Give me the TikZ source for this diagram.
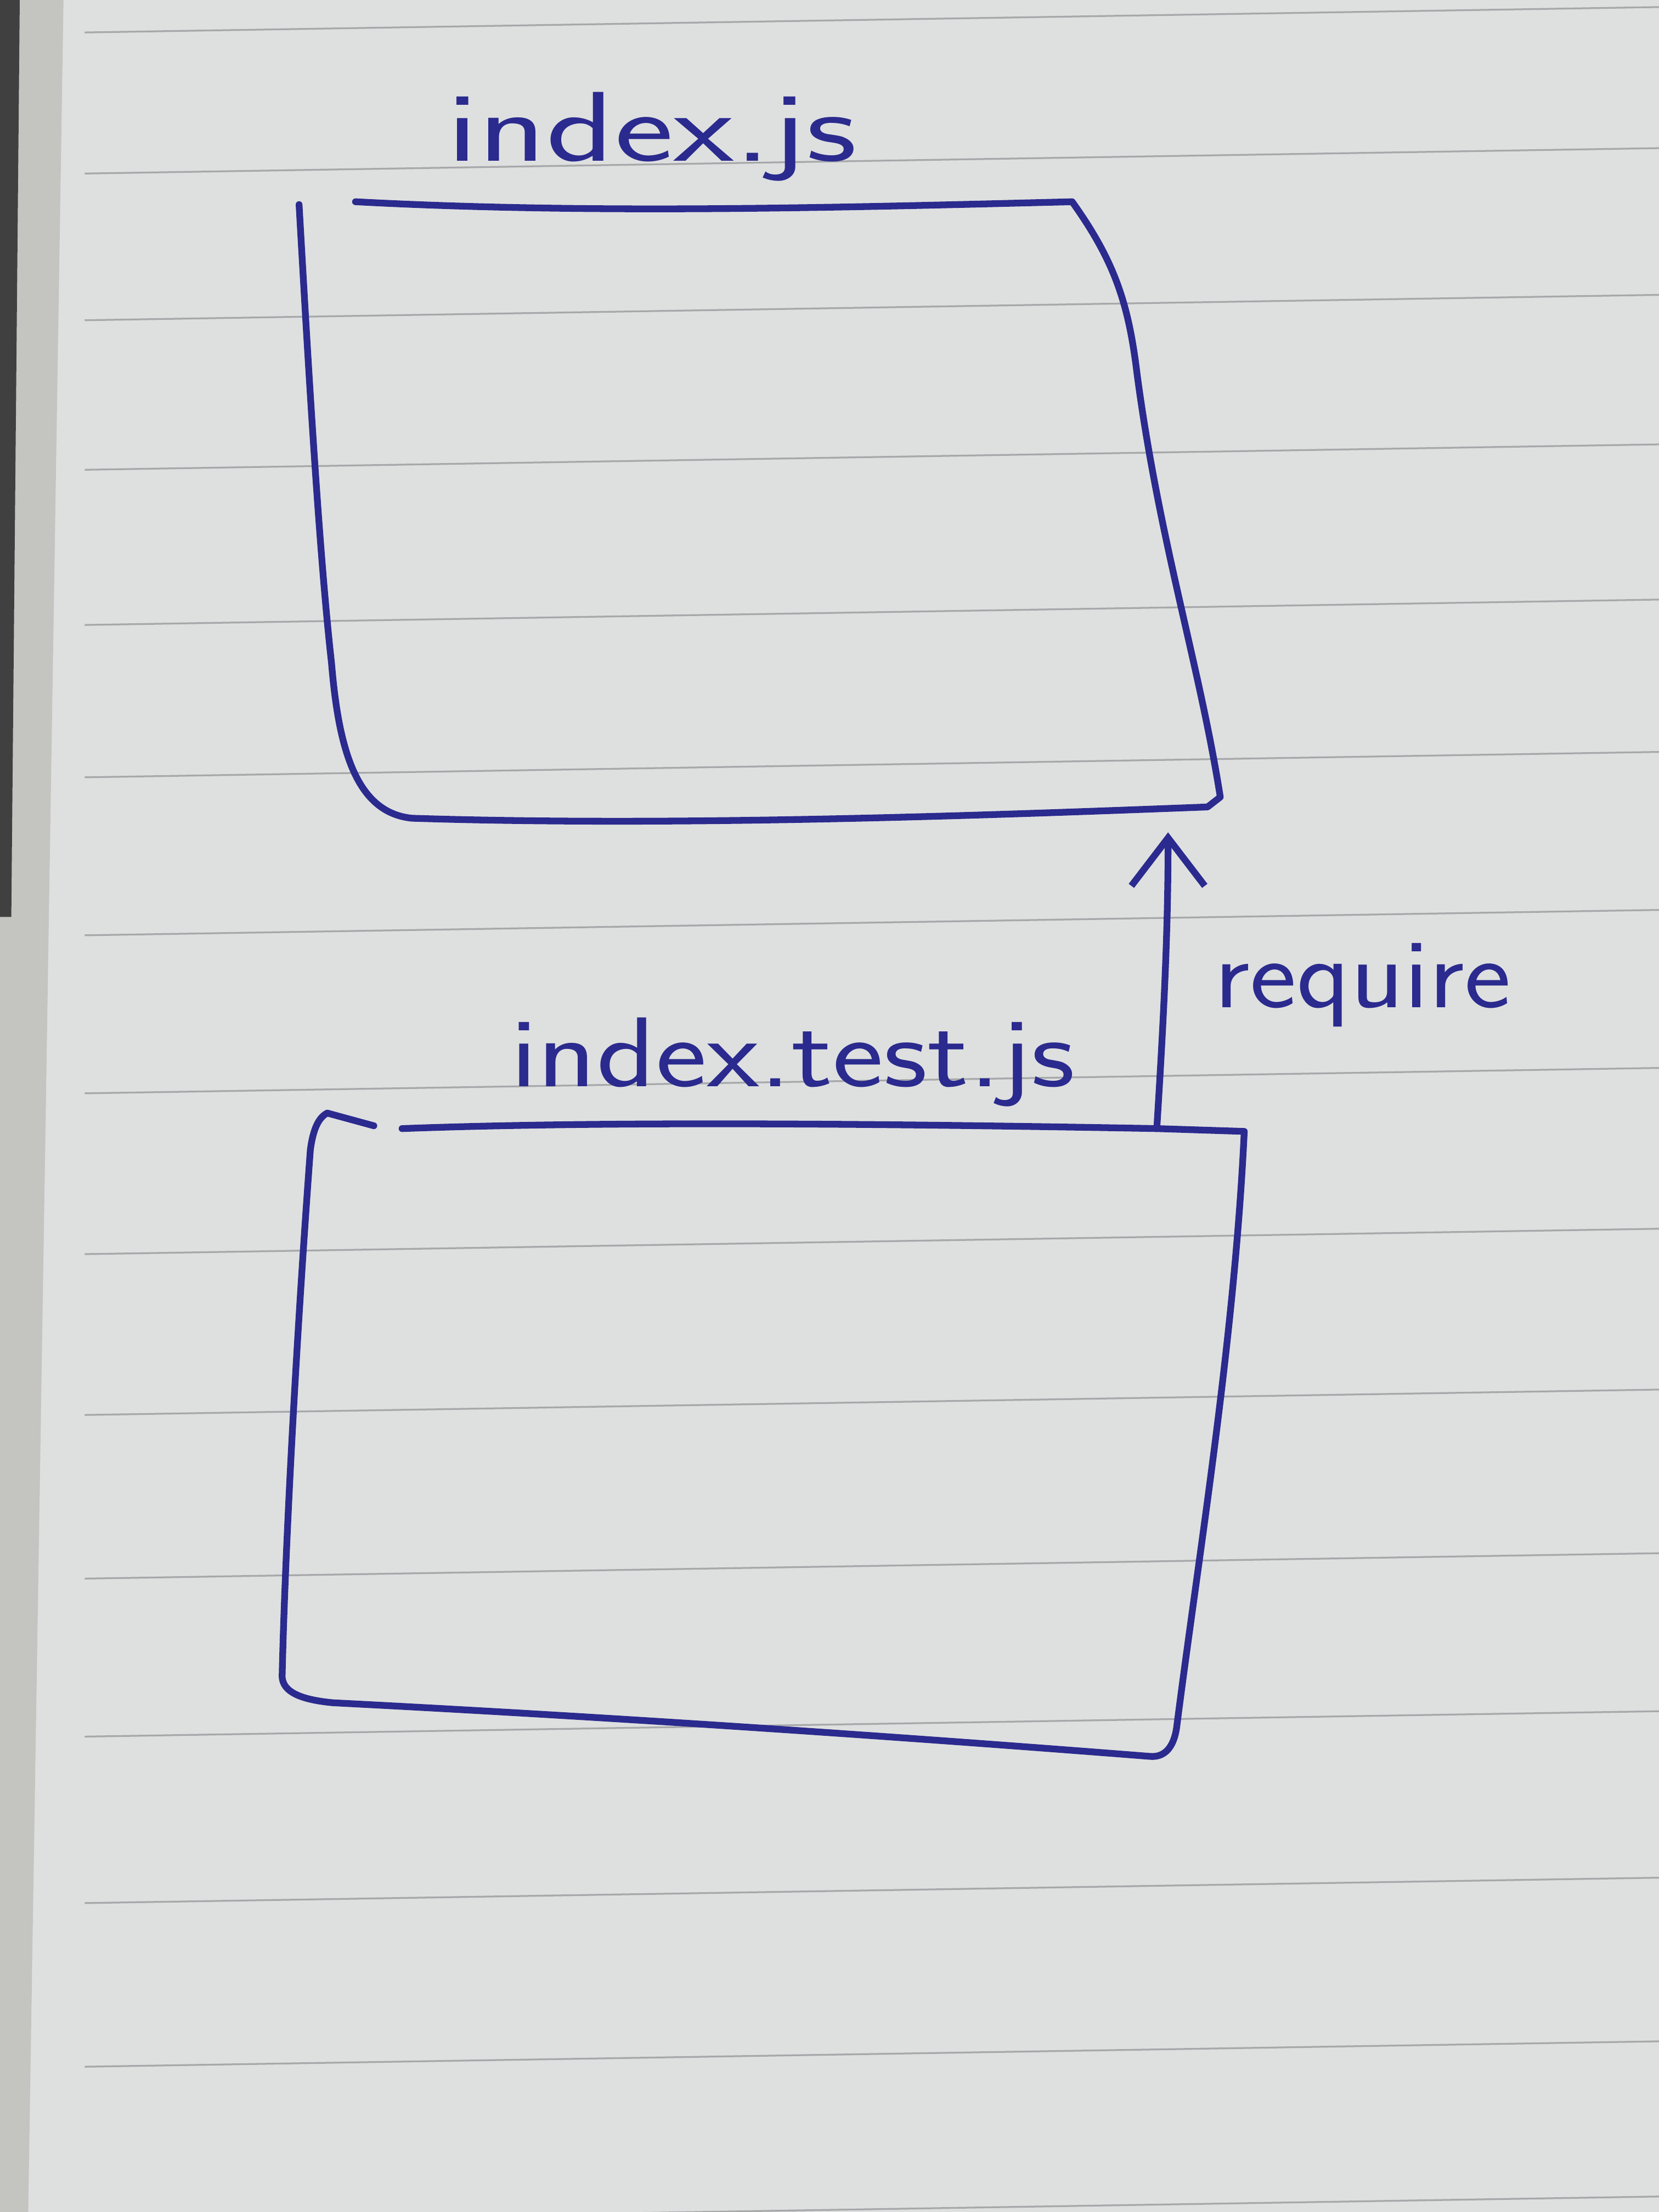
\documentclass[tikz,border=0pt]{standalone}
\usetikzlibrary{arrows.meta}
\definecolor{paper}{HTML}{DEE0E0}
\definecolor{rule}{HTML}{A6A8A9}
\definecolor{ink}{HTML}{2B2A8E}
\definecolor{edge}{HTML}{C4C4C1}
\begin{document}
\begin{tikzpicture}[x=0.025cm,y=-0.025cm,
  pen/.style={draw=ink,line width=3.4pt,line cap=round,line join=round},
  ruled/.style={draw=rule,line width=0.9pt},
  hand/.style={text=ink,font=\sffamily\fontsize{50}{54}\selectfont,inner sep=0pt,anchor=base}]
\useasboundingbox (0,0) rectangle (1176,1568);
\fill[paper] (0,0) rectangle (1176,1568);
\fill[edge] (0,0) -- (45,0) -- (20,1568) -- (0,1568) -- cycle;
\fill[black!75] (0,0) -- (14,0) -- (8,650) -- (0,650) -- cycle;
% ruled lines
\foreach \y in {14,114,218,324,434,542,654,766,880,994,1110,1222,1340,1456,1566}
  \draw[ruled] (60,\y+9) -- (1176,\y-9);

% top box: index.js
\draw[pen] (252,143) .. controls (420,152) and (600,147) .. (760,143)
  .. controls (790,185) and (800,215) .. (806,265)
  .. controls (822,385) and (850,470) .. (865,565)
  -- (856,572) .. controls (700,578) and (480,586) .. (292,580)
  .. controls (252,576) and (240,530) .. (235,470)
  .. controls (226,390) and (218,250) .. (212,145);
\node[hand] (topname) at (462,114) {\scalebox{1.42}[1]{index.js}};

% bottom box: index.test.js
\draw[pen] (265,798) -- (232,789) .. controls (226,792) and (222,800) .. (220,815)
  .. controls (210,950) and (202,1100) .. (200,1188)
  .. controls (200,1200) and (215,1205) .. (236,1207)
  .. controls (450,1218) and (650,1232) .. (815,1245)
  .. controls (826,1246) and (832,1238) .. (834,1225)
  .. controls (850,1100) and (875,950) .. (882,802)
  -- (820,800) .. controls (600,796) and (420,795) .. (285,800);
\node[hand] (bottomname) at (562,770) {\scalebox{1.23}[1]{index.test.js}};

% connector
\coordinate (reqfrom) at (820,800);
\coordinate (reqto) at (828,590);
\draw[pen,-{Straight Barb[length=0.85cm,width=1.3cm,line width=3.4pt]}]
  (reqfrom) .. controls (825,720) and (828,660) .. (reqto);
\node[hand] (reqlabel) at (966,714) {\scalebox{1.12}[1]{require}};
\end{tikzpicture}
\end{document}
